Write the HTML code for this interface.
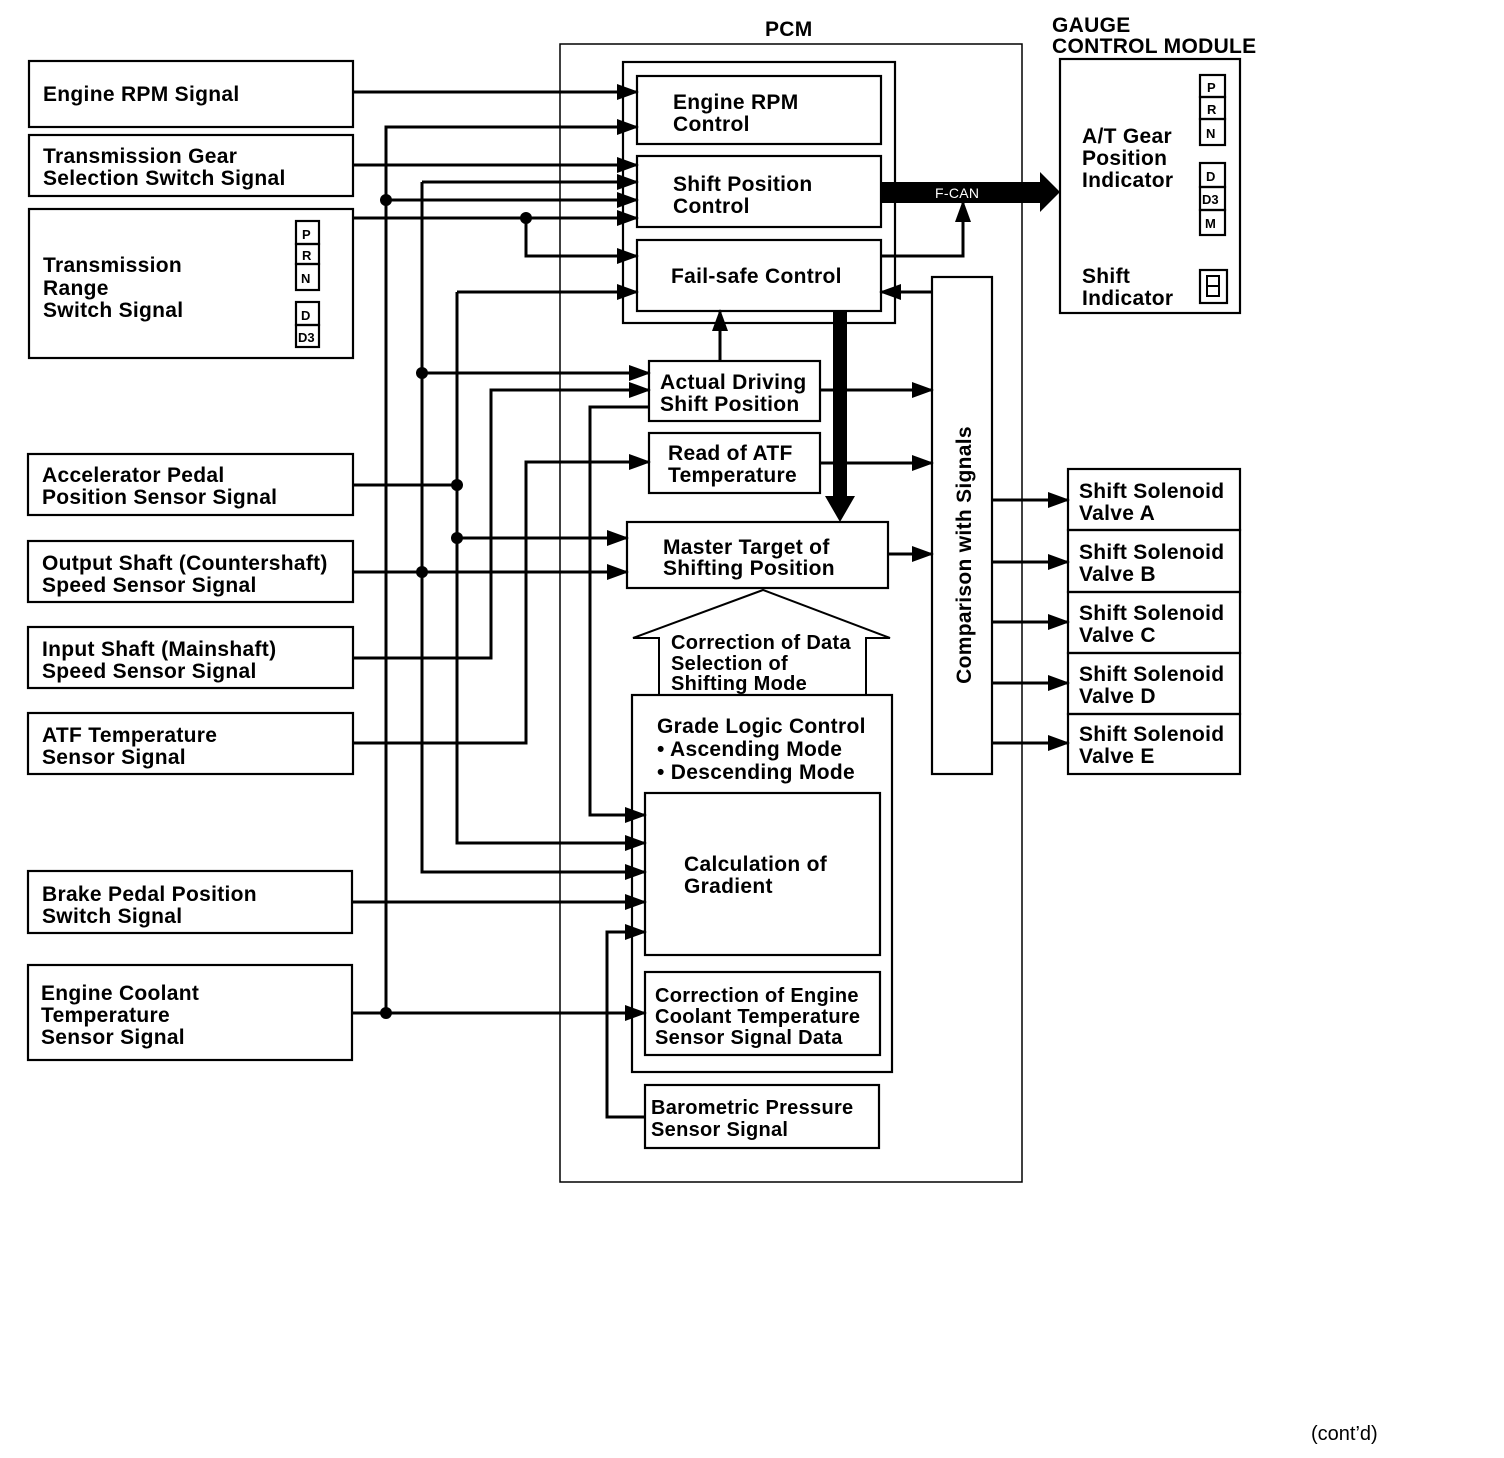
<!DOCTYPE html>
<html><head><meta charset="utf-8"><style>
html,body{margin:0;padding:0;background:#fff}
svg{display:block}
text{font-family:"Liberation Sans",Arial,sans-serif;font-weight:bold;font-size:21px;letter-spacing:0.3px;fill:#000}
.s{font-size:20px;letter-spacing:0.3px}
.b{fill:none;stroke:#000;stroke-width:2.2}
.w{fill:none;stroke:#000;stroke-width:3}
.k{font-size:13px;letter-spacing:0}
</style></head><body>
<svg width="1504" height="1458" viewBox="0 0 1504 1458" xmlns="http://www.w3.org/2000/svg">
<defs><marker id="a" markerWidth="22" markerHeight="16" refX="20" refY="8" orient="auto" markerUnits="userSpaceOnUse"><path d="M0,0 L22,8 L0,16 z" fill="#000"/></marker></defs>

<!-- left boxes -->
<rect class="b" x="29" y="61" width="324" height="66"/>
<text x="43" y="101">Engine RPM Signal</text>
<rect class="b" x="29" y="135" width="324" height="61"/>
<text x="43" y="163">Transmission Gear</text><text x="43" y="185">Selection Switch Signal</text>
<rect class="b" x="29" y="209" width="324" height="149"/>
<text x="43" y="272">Transmission</text><text x="43" y="295">Range</text><text x="43" y="317">Switch Signal</text>
<g class="k">
<rect class="b" x="296" y="221" width="23" height="23"/><text x="302" y="239" class="k">P</text>
<rect class="b" x="296" y="244" width="23" height="20"/><text x="302" y="260" class="k">R</text>
<rect class="b" x="296" y="264" width="23" height="26"/><text x="301" y="283" class="k">N</text>
<rect class="b" x="296" y="302" width="23" height="23"/><text x="301" y="320" class="k">D</text>
<rect class="b" x="296" y="325" width="23" height="22"/><text x="298" y="342" class="k">D3</text>
</g>
<rect class="b" x="28" y="454" width="325" height="61"/>
<text x="42" y="482">Accelerator Pedal</text><text x="42" y="504">Position Sensor Signal</text>
<rect class="b" x="28" y="541" width="325" height="61"/>
<text x="42" y="570">Output Shaft (Countershaft)</text><text x="42" y="592">Speed Sensor Signal</text>
<rect class="b" x="28" y="627" width="325" height="61"/>
<text x="42" y="656">Input Shaft (Mainshaft)</text><text x="42" y="678">Speed Sensor Signal</text>
<rect class="b" x="28" y="713" width="325" height="61"/>
<text x="42" y="742">ATF Temperature</text><text x="42" y="764">Sensor Signal</text>
<rect class="b" x="28" y="871" width="324" height="62"/>
<text x="42" y="901">Brake Pedal Position</text><text x="42" y="923">Switch Signal</text>
<rect class="b" x="28" y="965" width="324" height="95"/>
<text x="41" y="1000">Engine Coolant</text><text x="41" y="1022">Temperature</text><text x="41" y="1044">Sensor Signal</text>

<!-- PCM -->
<text x="765" y="36">PCM</text>
<rect x="560" y="44" width="462" height="1138" fill="none" stroke="#000" stroke-width="1.5"/>
<rect class="b" x="623" y="62" width="272" height="261"/>
<rect class="b" x="637" y="76" width="244" height="68"/>
<text x="673" y="109">Engine RPM</text><text x="673" y="131">Control</text>
<rect class="b" x="637" y="156" width="244" height="71"/>
<text x="673" y="191">Shift Position</text><text x="673" y="213">Control</text>
<rect class="b" x="637" y="240" width="244" height="71"/>
<text x="671" y="283">Fail-safe Control</text>
<rect class="b" x="649" y="361" width="171" height="60"/>
<text x="660" y="389">Actual Driving</text><text x="660" y="411">Shift Position</text>
<rect class="b" x="649" y="433" width="171" height="60"/>
<text x="668" y="460">Read of ATF</text><text x="668" y="482">Temperature</text>
<rect class="b" x="627" y="522" width="261" height="66"/>
<text x="663" y="554">Master Target of</text><text x="663" y="575">Shifting Position</text>
<polygon points="659,695 659,638 633,638 763,590 890,638 866,638 866,695" fill="#fff" stroke="#000" stroke-width="2"/>
<text x="671" y="649" class="s">Correction of Data</text><text x="671" y="670" class="s">Selection of</text><text x="671" y="690" class="s">Shifting Mode</text>
<rect class="b" x="632" y="695" width="260" height="377"/>
<text x="657" y="733">Grade Logic Control</text><text x="657" y="756">• Ascending Mode</text><text x="657" y="779">• Descending Mode</text>
<rect class="b" x="645" y="793" width="235" height="162"/>
<text x="684" y="871">Calculation of</text><text x="684" y="893">Gradient</text>
<rect class="b" x="645" y="972" width="235" height="83"/>
<text x="655" y="1002" class="s">Correction of Engine</text><text x="655" y="1023" class="s">Coolant Temperature</text><text x="655" y="1044" class="s">Sensor Signal Data</text>
<rect class="b" x="645" y="1085" width="234" height="63"/>
<text x="651" y="1114" class="s">Barometric Pressure</text><text x="651" y="1136" class="s">Sensor Signal</text>
<rect class="b" x="932" y="277" width="60" height="497"/>
<text transform="translate(971,555) rotate(-90)" text-anchor="middle">Comparison with Signals</text>

<!-- wires -->
<g class="w">
<path d="M353,92 H637" marker-end="url(#a)"/>
<path d="M386,1013 V127 H637" marker-end="url(#a)"/>
<path d="M386,200 H637" marker-end="url(#a)"/>
<path d="M352,1013 H645" marker-end="url(#a)"/>
<path d="M353,165 H637" marker-end="url(#a)"/>
<path d="M422,182 H637" marker-end="url(#a)"/>
<path d="M422,182 V872 H645" marker-end="url(#a)"/>
<path d="M422,373 H649" marker-end="url(#a)"/>
<path d="M353,572 H627" marker-end="url(#a)"/>
<path d="M353,218 H637" marker-end="url(#a)"/>
<path d="M526,218 V256 H637" marker-end="url(#a)"/>
<path d="M457,292 H637" marker-end="url(#a)"/>
<path d="M457,292 V843 H645" marker-end="url(#a)"/>
<path d="M353,485 H457"/>
<path d="M457,538 H627" marker-end="url(#a)"/>
<path d="M353,658 H491 V390 H649" marker-end="url(#a)"/>
<path d="M353,743 H526 V462 H649" marker-end="url(#a)"/>
<path d="M649,407 H590 V815 H645" marker-end="url(#a)"/>
<path d="M352,902 H645" marker-end="url(#a)"/>
<path d="M645,1117 H607 V932 H645" marker-end="url(#a)"/>
<path d="M720,361 V311" marker-end="url(#a)"/>
<path d="M820,390 H932" marker-end="url(#a)"/>
<path d="M820,463 H932" marker-end="url(#a)"/>
<path d="M888,554 H932" marker-end="url(#a)"/>
<path d="M932,292 H881" marker-end="url(#a)"/>
<path d="M881,256 H963 V202" marker-end="url(#a)"/>
<path d="M992,500 H1068" marker-end="url(#a)"/>
<path d="M992,562 H1068" marker-end="url(#a)"/>
<path d="M992,622 H1068" marker-end="url(#a)"/>
<path d="M992,683 H1068" marker-end="url(#a)"/>
<path d="M992,743 H1068" marker-end="url(#a)"/>
</g>
<g fill="#000">
<circle cx="386" cy="200" r="6"/><circle cx="386" cy="1013" r="6"/>
<circle cx="422" cy="373" r="6"/><circle cx="422" cy="572" r="6"/>
<circle cx="526" cy="218" r="6"/>
<circle cx="457" cy="485" r="6"/><circle cx="457" cy="538" r="6"/>
<rect x="881" y="182" width="160" height="21"/>
<polygon points="1040,172 1060,192 1040,212"/>
<rect x="833" y="311" width="14" height="188"/>
<polygon points="825,496 855,496 840,522"/>
</g>
<text x="935" y="198" style="fill:#fff;font-weight:normal;font-size:14px">F-CAN</text>

<!-- Gauge -->
<text x="1052" y="32">GAUGE</text><text x="1052" y="53">CONTROL MODULE</text>
<rect class="b" x="1060" y="59" width="180" height="254"/>
<text x="1082" y="143">A/T Gear</text><text x="1082" y="165">Position</text><text x="1082" y="187">Indicator</text>
<text x="1082" y="283">Shift</text><text x="1082" y="305">Indicator</text>
<rect class="b" x="1200" y="75" width="25" height="22"/><text x="1207" y="92" class="k">P</text>
<rect class="b" x="1200" y="97" width="25" height="22"/><text x="1207" y="114" class="k">R</text>
<rect class="b" x="1200" y="119" width="25" height="26"/><text x="1206" y="138" class="k">N</text>
<rect class="b" x="1200" y="163" width="25" height="24"/><text x="1206" y="181" class="k">D</text>
<rect class="b" x="1200" y="187" width="25" height="23"/><text x="1202" y="204" class="k">D3</text>
<rect class="b" x="1200" y="210" width="25" height="25"/><text x="1205" y="228" class="k">M</text>
<rect class="b" x="1200" y="270" width="27" height="33"/>
<path d="M1207,276 h12 v20 h-12 z M1207,286 h12" fill="none" stroke="#000" stroke-width="2"/>

<!-- solenoids -->
<rect class="b" x="1068" y="469" width="172" height="61"/><text x="1079" y="498">Shift Solenoid</text><text x="1079" y="520">Valve A</text>
<rect class="b" x="1068" y="530" width="172" height="62"/><text x="1079" y="559">Shift Solenoid</text><text x="1079" y="581">Valve B</text>
<rect class="b" x="1068" y="592" width="172" height="61"/><text x="1079" y="620">Shift Solenoid</text><text x="1079" y="642">Valve C</text>
<rect class="b" x="1068" y="653" width="172" height="61"/><text x="1079" y="681">Shift Solenoid</text><text x="1079" y="703">Valve D</text>
<rect class="b" x="1068" y="714" width="172" height="60"/><text x="1079" y="741">Shift Solenoid</text><text x="1079" y="763">Valve E</text>

<text x="1311" y="1440" style="font-weight:normal;font-size:20px;letter-spacing:0">(cont’d)</text>
</svg>
</body></html>
